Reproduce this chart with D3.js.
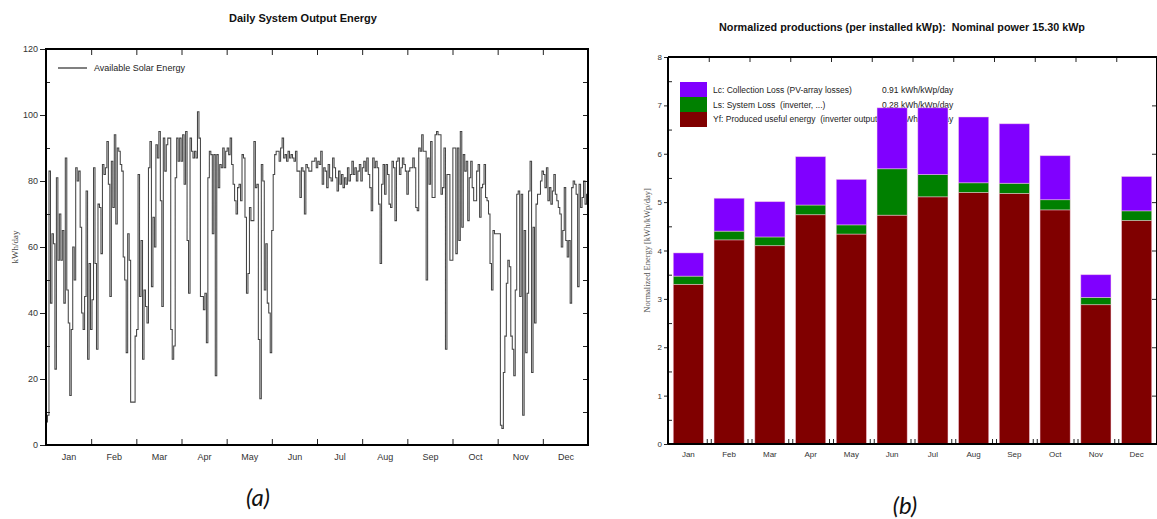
<!DOCTYPE html>
<html>
<head>
<meta charset="utf-8">
<script src="https://cdn.jsdelivr.net/npm/d3@7/dist/d3.min.js"></script>
<style>
  body { margin: 0; background: #fff; }
  svg { display: block; }
  text { font-family: "Liberation Sans", Arial, sans-serif; white-space: pre; }
</style>
</head>
<body>
<svg id="chart" width="1157" height="519"></svg>
<script>
// ---------- shared ----------
const months = ["Jan","Feb","Mar","Apr","May","Jun","Jul","Aug","Sep","Oct","Nov","Dec"];

// ---------- (a) daily output energy, kWh/day ----------
const janDaily = [7, 9, 83, 43, 64, 61, 23, 81, 56, 70, 56, 65, 43, 87, 47, 37, 15, 35, 60, 50, 84, 80, 83, 66, 40, 35, 45, 77, 26, 55, 35];
const febDaily = [44, 84, 55, 29, 73, 72, 58, 85, 82, 84, 92, 79, 45, 86, 72, 94, 67, 90, 89, 85, 83, 57, 50, 28, 64, 56, 13, 13];
const marDaily = [13, 33, 35, 82, 45, 62, 26, 47, 42, 37, 84, 92, 48, 69, 60, 91, 87, 95, 74, 42, 93, 83, 91, 93, 93, 35, 26, 30, 81, 93, 86];
const aprDaily = [93, 86, 94, 79, 95, 62, 46, 93, 89, 87, 89, 87, 101, 93, 45, 45, 41, 46, 31, 81, 89, 88, 64, 88, 21, 88, 78, 85, 84, 90];
const mayDaily = [84, 89, 90, 88, 93, 85, 79, 74, 70, 78, 79, 74, 88, 87, 69, 46, 52, 72, 68, 68, 92, 78, 79, 32, 14, 85, 80, 47, 61, 43, 40];
const junDaily = [28, 65, 82, 88, 89, 89, 86, 90, 93, 87, 88, 86, 89, 87, 88, 87, 86, 89, 83, 83, 75, 84, 83, 70, 85, 84, 83, 83, 86, 86];
const julDaily = [87, 84, 86, 85, 89, 79, 84, 83, 78, 85, 81, 80, 87, 84, 81, 77, 83, 79, 82, 78, 81, 79, 84, 80, 82, 86, 82, 84, 80, 83, 85];
const augDaily = [80, 84, 86, 83, 87, 82, 78, 71, 87, 84, 86, 84, 73, 55, 79, 85, 76, 85, 82, 73, 72, 86, 84, 68, 86, 87, 82, 84, 87, 85, 83];
const sepDaily = [76, 83, 84, 84, 87, 84, 72, 71, 90, 89, 94, 89, 89, 50, 87, 79, 92, 75, 75, 94, 95, 94, 94, 76, 78, 90, 29, 82, 82, 56];
const octDaily = [56, 90, 90, 58, 90, 62, 95, 66, 88, 83, 86, 68, 81, 86, 78, 74, 74, 83, 85, 69, 78, 79, 85, 75, 74, 70, 55, 47, 65, 64, 64];
const novDaily = [64, 64, 6, 5, 22, 33, 49, 56, 54, 33, 29, 21, 47, 76, 77, 45, 76, 9, 65, 28, 46, 77, 86, 22, 66, 37, 73, 76, 76, 80];
const decDaily = [83, 82, 78, 84, 74, 78, 73, 77, 82, 76, 74, 72, 70, 60, 65, 78, 62, 57, 62, 43, 78, 80, 79, 76, 48, 79, 72, 75, 80, 73, 76];
const dailyTicks = [0, 20, 40, 60, 80, 100, 120];

// ---------- (b) normalized productions, kWh/kWp/day ----------
const yfValues = [3.30, 4.22, 4.10, 4.74, 4.34, 4.73, 5.11, 5.20, 5.18, 4.84, 2.88, 4.62];
const lsValues = [0.17, 0.18, 0.18, 0.20, 0.19, 0.96, 0.46, 0.20, 0.21, 0.21, 0.15, 0.20];
const lcValues = [0.48, 0.68, 0.73, 1.00, 0.94, 1.26, 1.38, 1.36, 1.23, 0.91, 0.47, 0.71];
const legendLabels = ["Lc: Collection Loss (PV-array losses)", "Ls: System Loss  (inverter, ...)", "Yf: Produced useful energy  (inverter output)"];
const legendValues = ["0.91 kWh/kWp/day", "0.28 kWh/kWp/day", "4.44 kWh/kWp/day"];
const normTicks = [0, 1, 2, 3, 4, 5, 6, 7, 8];

const svg = d3.select("#chart");

// =====================================================================
// (a) Daily System Output Energy
// =====================================================================
(function () {
  const L = 46, R = 588, T = 49, B = 445;
  const daily = [].concat(janDaily, febDaily, marDaily, aprDaily, mayDaily, junDaily,
                          julDaily, augDaily, sepDaily, octDaily, novDaily, decDaily);
  const nDays = daily.length;
  const x = d3.scaleLinear().domain([0, nDays]).range([L, R]);
  const y = d3.scaleLinear().domain([0, 120]).range([B, T]);
  const g = svg.append("g");

  g.append("text").attr("x", 303).attr("y", 22).attr("text-anchor", "middle")
    .attr("font-size", 11).attr("font-weight", "bold").attr("fill", "#111")
    .text("Daily System Output Energy");

  g.append("defs").append("clipPath").attr("id", "clipA")
    .append("rect").attr("x", L).attr("y", T).attr("width", R - L).attr("height", B - T);

  const monthLen = nDays / 12;
  const bounds = d3.range(1, 12).map(i => i * monthLen);
  const mids = d3.range(12).map(i => (i + 0.5) * monthLen);

  // step line of daily values
  const pts = daily.map((v, i) => [i, v]).concat([[nDays, daily[nDays - 1]]]);
  const line = d3.line().x(d => x(d[0])).y(d => y(d[1])).curve(d3.curveStepAfter);
  g.append("path").datum(pts).attr("clip-path", "url(#clipA)")
    .attr("d", line).attr("fill", "none").attr("stroke", "#454545")
    .attr("stroke-width", 1.05).attr("stroke-linejoin", "miter");

  const styleAxis = sel => {
    sel.select(".domain").remove();
    sel.selectAll("line").attr("stroke", "#222").attr("stroke-width", 1);
    sel.selectAll("text").attr("font-size", 9).attr("fill", "#333")
      .attr("font-family", "Liberation Sans, Arial, sans-serif");
  };

  // left: labelled majors outside, minors inside
  g.append("g").attr("transform", `translate(${L},0)`)
    .call(d3.axisLeft(y).tickValues(dailyTicks).tickSize(6).tickPadding(2))
    .call(styleAxis);
  g.append("g").attr("transform", `translate(${L},0)`)
    .call(d3.axisLeft(y).tickValues(d3.range(10, 120, 20)).tickSize(-4).tickFormat(""))
    .call(styleAxis);
  // right: inward ticks
  g.append("g").attr("transform", `translate(${R},0)`)
    .call(d3.axisRight(y).tickValues(d3.range(10, 120, 10)).tickSize(-5).tickFormat(""))
    .call(styleAxis);
  // bottom: month boundary ticks and centred month names
  g.append("g").attr("transform", `translate(0,${B})`)
    .call(d3.axisBottom(x).tickValues(bounds).tickSize(-6).tickFormat(""))
    .call(styleAxis);
  g.append("g").attr("transform", `translate(0,${B})`)
    .call(d3.axisBottom(x).tickValues(mids).tickSize(0).tickPadding(9)
      .tickFormat((d, i) => months[i]))
    .call(styleAxis);
  // top
  g.append("g").attr("transform", `translate(0,${T})`)
    .call(d3.axisTop(x).tickValues(bounds).tickSize(-6).tickFormat(""))
    .call(styleAxis);

  g.append("rect").attr("x", L).attr("y", T).attr("width", R - L).attr("height", B - T)
    .attr("fill", "none").attr("stroke", "#000").attr("stroke-width", 2);

  // legend
  g.append("line").attr("x1", 58).attr("x2", 87).attr("y1", 68).attr("y2", 68)
    .attr("stroke", "#3c3c3c").attr("stroke-width", 1.3);
  g.append("text").attr("x", 94).attr("y", 71).attr("font-size", 9).attr("fill", "#222")
    .text("Available Solar Energy");

  g.append("text").attr("transform", `translate(18,${(T + B) / 2}) rotate(-90)`)
    .attr("text-anchor", "middle").attr("font-size", 9).attr("fill", "#444")
    .style("font-family", "Liberation Serif, serif")
    .text("kWh/day");

  g.append("text").attr("x", 258).attr("y", 506).attr("text-anchor", "middle")
    .attr("font-size", 24).attr("font-style", "italic").attr("fill", "#111")
    .style("font-family", "Lato, 'Open Sans', sans-serif")
    .text("(a)");
})();

// =====================================================================
// (b) Normalized productions
// =====================================================================
(function () {
  const L = 668, R = 1157, T = 57, B = 444;
  const x = d3.scaleBand().domain(months).range([L, R]).paddingInner(0.26).paddingOuter(0.13);
  const y = d3.scaleLinear().domain([0, 8]).range([B, T]);
  const g = svg.append("g");
  const step = x.step();

  g.append("text").attr("x", 902).attr("y", 31).attr("text-anchor", "middle")
    .attr("font-size", 10.8).attr("font-weight", "bold").attr("fill", "#111")
    .text("Normalized productions (per installed kWp):  Nominal power 15.30 kWp");

  const styleAxis = sel => {
    sel.select(".domain").remove();
    sel.selectAll("line").attr("stroke", "#222").attr("stroke-width", 1);
    sel.selectAll("text").attr("font-size", 8).attr("fill", "#333")
      .attr("font-family", "Liberation Sans, Arial, sans-serif");
  };

  // legend sits behind the bars
  const colors = { lc: "#8000ff", ls: "#008000", yf: "#800000" };
  const legendKeys = ["lc", "ls", "yf"];
  legendKeys.forEach((k, i) => {
    g.append("rect").attr("x", 680).attr("y", 82 + i * 15).attr("width", 27).attr("height", 15)
      .attr("fill", colors[k]);
    g.append("text").attr("x", 713).attr("y", 93 + i * 14.5).attr("font-size", 8.5).attr("fill", "#222")
      .text(legendLabels[i]);
    g.append("text").attr("x", 882).attr("y", 93 + i * 14.5).attr("font-size", 8.5).attr("fill", "#222")
      .text(legendValues[i]);
  });

  const table = months.map((m, i) => ({ month: m, yf: yfValues[i], ls: lsValues[i], lc: lcValues[i] }));
  const series = d3.stack().keys(["yf", "ls", "lc"])(table);
  g.selectAll("g.layer").data(series).join("g").attr("class", "layer")
    .attr("fill", d => colors[d.key])
    .selectAll("rect").data(d => d).join("rect")
    .attr("x", d => x(d.data.month))
    .attr("width", x.bandwidth())
    .attr("y", d => y(d[1]))
    .attr("height", d => y(d[0]) - y(d[1]))
    .attr("stroke", "rgba(255,210,230,0.55)").attr("stroke-width", 0.8);

  // y axis: labelled majors outside, half-unit minors inside
  g.append("g").attr("transform", `translate(${L},0)`)
    .call(d3.axisLeft(y).tickValues(normTicks).tickSize(4).tickPadding(2))
    .call(styleAxis);
  g.append("g").attr("transform", `translate(${L},0)`)
    .call(d3.axisLeft(y).tickValues(d3.range(0.5, 8, 1)).tickSize(-4).tickFormat(""))
    .call(styleAxis);
  g.append("g").attr("transform", `translate(${R},0)`)
    .call(d3.axisRight(y).tickValues(d3.range(1, 8, 1)).tickSize(-5).tickFormat(""))
    .call(styleAxis);

  // month boundaries
  const bounds = d3.range(1, 12).map(i => L + i * step);
  const bx = d3.scaleLinear().domain([L, R]).range([L, R]);
  g.append("g").attr("transform", `translate(0,${B})`)
    .call(d3.axisBottom(bx).tickValues(bounds.flatMap(b => [b - 2, b + 2])).tickSize(-5).tickFormat(""))
    .call(styleAxis);
  g.append("g").attr("transform", `translate(0,${T})`)
    .call(d3.axisTop(bx).tickValues(bounds).tickSize(-5).tickFormat(""))
    .call(styleAxis);
  g.append("g").attr("transform", `translate(0,${B})`)
    .call(d3.axisBottom(x).tickSize(0).tickPadding(7))
    .call(styleAxis);

  // frame
  g.append("line").attr("x1", L).attr("x2", R).attr("y1", B).attr("y2", B).attr("stroke", "#000").attr("stroke-width", 2);
  g.append("line").attr("x1", L).attr("x2", R).attr("y1", T).attr("y2", T).attr("stroke", "#000").attr("stroke-width", 2);
  g.append("line").attr("x1", L).attr("x2", L).attr("y1", T).attr("y2", B).attr("stroke", "#000").attr("stroke-width", 2);
  g.append("line").attr("x1", R).attr("x2", R).attr("y1", T).attr("y2", B).attr("stroke", "#000").attr("stroke-width", 2);

  g.append("text").attr("transform", `translate(650,${(T + B) / 2}) rotate(-90)`)
    .attr("text-anchor", "middle").attr("font-size", 8.5).attr("fill", "#555")
    .style("font-family", "Liberation Serif, serif")
    .text("Normalized Energy [kWh/kWp/day]");

  g.append("text").attr("x", 905).attr("y", 514).attr("text-anchor", "middle")
    .attr("font-size", 24).attr("font-style", "italic").attr("fill", "#111")
    .style("font-family", "Lato, 'Open Sans', sans-serif")
    .text("(b)");
})();
</script>
</body>
</html>
